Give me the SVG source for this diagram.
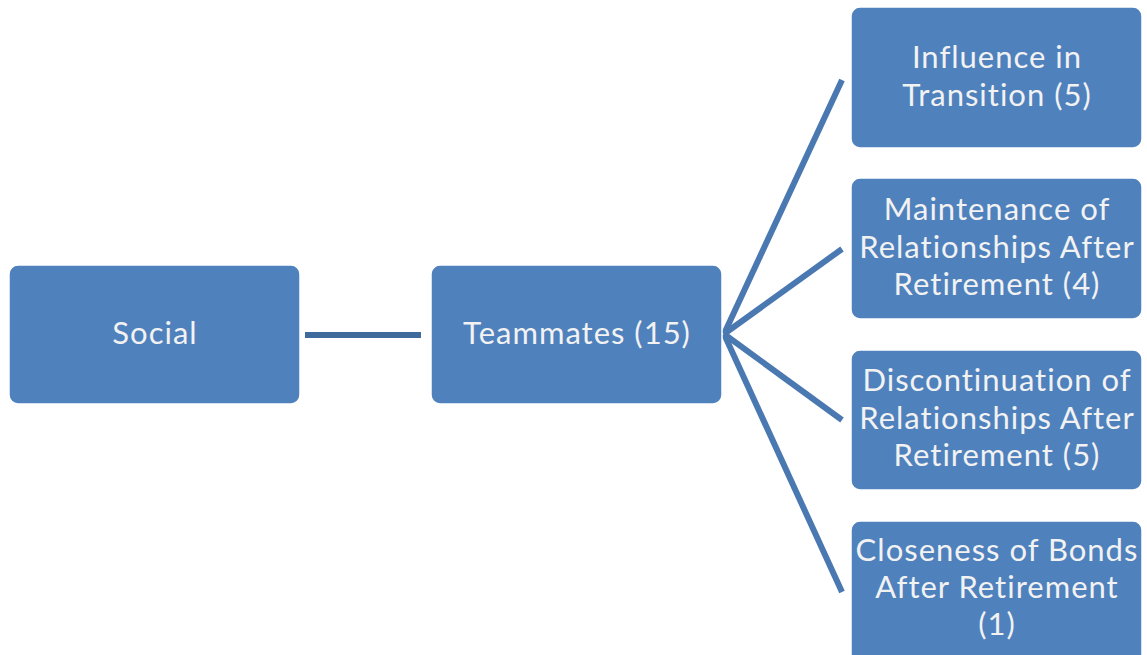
<svg xmlns="http://www.w3.org/2000/svg" width="1147" height="655" viewBox="0 0 1147 655">
<style>
.box{fill:#4f81bd;stroke:#ffffff;stroke-width:1.5}
.t{font-family:Lato,"Liberation Sans",sans-serif;font-size:31px;letter-spacing:1px;fill:#f2f2f2;text-anchor:middle}
.c{stroke:#4a78b0;stroke-width:6;fill:none}
</style>
<rect width="1147" height="655" fill="#ffffff"/>
<g id="connectors">
<line class="c" x1="305" y1="335" x2="421" y2="335" style="stroke:#3f6a9c"/>
<line class="c" x1="724" y1="334" x2="842" y2="80"/>
<line class="c" x1="724" y1="334" x2="842" y2="249"/>
<line class="c" x1="724" y1="334" x2="842" y2="420"/>
<line class="c" x1="724" y1="334" x2="842" y2="592"/>
</g>
<g id="social">
<rect class="box" x="9" y="265" width="291" height="139" rx="9"/>
<text class="t" x="155" y="344">Social</text>
</g>
<g id="teammates">
<rect class="box" x="431" y="265" width="291" height="139" rx="9"/>
<text class="t" x="577" y="344">Teammates (15)</text>
</g>
<g id="influence">
<rect class="box" x="851" y="7" width="291" height="141" rx="9"/>
<text class="t" x="997" y="68">Influence in</text>
<text class="t" x="997" y="106">Transition (5)</text>
</g>
<g id="maintenance">
<rect class="box" x="851" y="178" width="291" height="141" rx="9"/>
<text class="t" x="997" y="220">Maintenance of</text>
<text class="t" x="997" y="257.5">Relationships After</text>
<text class="t" x="997" y="295">Retirement (4)</text>
</g>
<g id="discontinuation">
<rect class="box" x="851" y="350" width="291" height="140" rx="9"/>
<text class="t" x="997" y="391">Discontinuation of</text>
<text class="t" x="997" y="428.5">Relationships After</text>
<text class="t" x="997" y="466">Retirement (5)</text>
</g>
<g id="closeness">
<rect class="box" x="851" y="521" width="291" height="145" rx="9"/>
<text class="t" x="997" y="561">Closeness of Bonds</text>
<text class="t" x="997" y="598">After Retirement</text>
<text class="t" x="997" y="635">(1)</text>
</g>
</svg>
